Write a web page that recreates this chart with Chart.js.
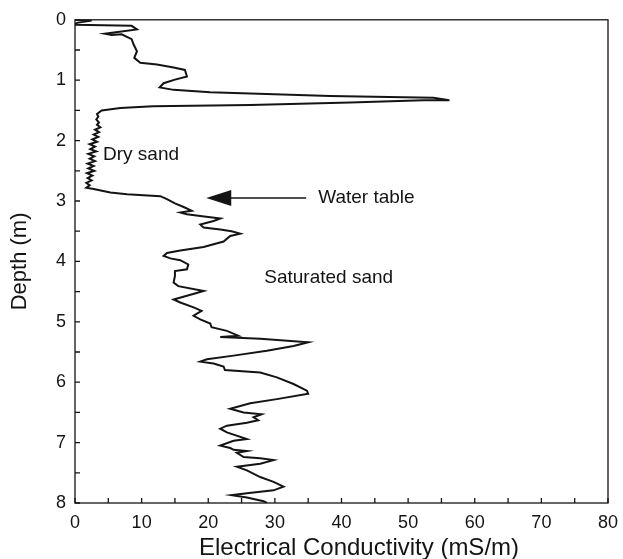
<!DOCTYPE html>
<html>
<head>
<meta charset="utf-8">
<script src="https://cdn.jsdelivr.net/npm/chart.js@4"></script>
<style>
  html, body { margin: 0; padding: 0; background: #fff; }
</style>
</head>
<body>
<canvas id="myChart" width="623" height="559"></canvas>
<script>
// conductivity log, depth (m) and EC (mS/m) pairs
const depth = [
  0.00, 0.01, 0.05, 0.08, 0.10, 0.16, 0.23, 0.25, 0.24, 0.32, 0.41, 0.52, 0.63, 0.71,
  0.74, 0.79, 0.83, 0.94, 0.99, 1.05, 1.12, 1.16, 1.20, 1.22, 1.26, 1.29, 1.33, 1.33,
  1.37, 1.41, 1.43, 1.46, 1.50, 1.56,
  // dry sand
  1.60, 1.65, 1.70, 1.74, 1.78, 1.82, 1.86, 1.90, 1.94, 1.98, 2.02, 2.06, 2.10, 2.14,
  2.18, 2.22, 2.26, 2.30, 2.34, 2.38, 2.42, 2.46, 2.50, 2.54, 2.58, 2.62, 2.66, 2.70,
  2.74, 2.78,
  // saturated sand
  2.80, 2.86, 2.89, 2.92, 2.97, 3.04, 3.10, 3.16, 3.19, 3.22, 3.25, 3.29, 3.33, 3.39,
  3.44, 3.47, 3.50, 3.54, 3.58, 3.67, 3.76, 3.82, 3.86, 3.91, 3.95, 3.98, 4.05, 4.13,
  4.16, 4.24, 4.35, 4.41, 4.49, 4.53, 4.63, 4.68, 4.76, 4.82, 4.90, 4.96, 5.03, 5.09,
  5.15, 5.23, 5.25, 5.28, 5.34, 5.40, 5.48, 5.56, 5.62, 5.66, 5.69, 5.74, 5.80, 5.84,
  5.92, 6.03, 6.14, 6.19, 6.28, 6.35, 6.44, 6.50, 6.53, 6.58, 6.63, 6.67, 6.72, 6.77,
  6.83, 6.94, 6.97, 7.05, 7.09, 7.12, 7.14, 7.17, 7.24, 7.26, 7.29, 7.35, 7.40, 7.46,
  7.57, 7.65, 7.73, 7.79, 7.84, 7.87, 7.91, 7.97, 8.00
];
const conductivity = [
  0.0, 2.5, 0.3, 0.0, 8.5, 9.3, 4.5, 5.5, 7.0, 8.5, 8.8, 9.3, 8.9, 9.8,
  12.3, 14.8, 16.5, 16.8, 15.0, 13.3, 12.7, 14.8, 20.3, 26.3, 38.3, 53.8, 56.2, 52.3,
  41.3, 26.3, 11.7, 6.8, 4.0, 3.3,
  3.5, 3.2, 3.6, 3.3, 3.8, 3.0, 3.6, 2.8, 3.5, 2.6, 3.3, 2.2, 3.0, 2.3,
  3.2, 2.0, 2.9, 2.2, 3.0, 1.9, 2.8, 2.0, 2.9, 1.8, 2.6, 1.9, 2.5, 1.7,
  2.2, 1.7,
  2.8, 5.3, 7.8, 12.8, 13.8, 15.0, 16.3, 17.5, 15.8, 16.8, 18.8, 21.8, 20.8, 18.8,
  19.3, 21.8, 23.5, 24.8, 23.3, 22.3, 19.3, 15.8, 13.8, 13.3, 14.3, 15.8, 17.0, 16.8,
  15.0, 15.0, 14.8, 15.5, 19.3, 18.0, 14.8, 15.8, 17.8, 19.0, 17.8, 18.8, 20.3, 20.5,
  22.8, 24.5, 21.8, 27.8, 35.0, 32.8, 28.8, 23.8, 19.8, 18.8, 20.8, 22.3, 22.5, 27.8,
  30.3, 32.8, 34.8, 35.0, 30.3, 26.3, 23.3, 25.3, 28.0, 26.8, 27.5, 25.8, 22.8, 21.8,
  22.8, 25.8, 23.8, 21.8, 23.3, 23.8, 25.8, 24.3, 25.3, 27.8, 29.8, 27.8, 24.3, 25.8,
  27.8, 29.8, 31.3, 29.8, 25.8, 23.5, 25.8, 28.3, 28.8
];
const xTicks = [0, 10, 20, 30, 40, 50, 60, 70, 80];
const yTicks = [0, 1, 2, 3, 4, 5, 6, 7, 8];
const xMinor = [0, 5, 10, 15, 20, 25, 30, 35, 40, 45, 50, 55, 60, 65, 70, 75, 80];
const yMinor = [0, 0.5, 1, 1.5, 2, 2.5, 3, 3.5, 4, 4.5, 5, 5.5, 6, 6.5, 7, 7.5, 8];

const FONT = 'Liberation Sans, Arial, Helvetica, sans-serif';
const INK = '#141414';

// box + inward tick marks
const framePlugin = {
  id: 'frame',
  afterDraw(chart) {
    const { ctx, chartArea: a, scales: { x, y } } = chart;
    ctx.save();
    ctx.strokeStyle = INK;
    ctx.lineWidth = 1.3;
    ctx.strokeRect(a.left, a.top, a.right - a.left, a.bottom - a.top);
    ctx.beginPath();
    xMinor.forEach(v => {
      const px = x.getPixelForValue(v);
      ctx.moveTo(px, a.bottom);
      ctx.lineTo(px, a.bottom - 5);
    });
    yMinor.forEach(v => {
      const py = y.getPixelForValue(v);
      ctx.moveTo(a.left, py);
      ctx.lineTo(a.left + 5, py);
    });
    ctx.stroke();
    ctx.restore();
  }
};

// text notes, the water table arrow and the x axis title (sits right of centre)
const notesPlugin = {
  id: 'notes',
  afterDraw(chart) {
    const { ctx, scales: { x, y } } = chart;
    ctx.save();
    ctx.fillStyle = INK;
    ctx.font = '19px ' + FONT;
    ctx.textBaseline = 'middle';
    ctx.textAlign = 'left';
    ctx.fillText('Dry sand', x.getPixelForValue(4.2), y.getPixelForValue(2.23));
    ctx.fillText('Water table', x.getPixelForValue(36.5), y.getPixelForValue(2.94));
    ctx.fillText('Saturated sand', x.getPixelForValue(28.4), y.getPixelForValue(4.27));

    ctx.font = '24px ' + FONT;
    ctx.textAlign = 'center';
    ctx.fillText('Electrical Conductivity (mS/m)', 359, 548);

    const ay = y.getPixelForValue(2.95);
    const tip = x.getPixelForValue(19.7);
    const tail = x.getPixelForValue(34.7);
    ctx.strokeStyle = INK;
    ctx.lineWidth = 1.5;
    ctx.beginPath();
    ctx.moveTo(tip + 20, ay);
    ctx.lineTo(tail, ay);
    ctx.stroke();
    ctx.beginPath();
    ctx.moveTo(tip, ay);
    ctx.lineTo(tip + 25, ay - 8);
    ctx.lineTo(tip + 25, ay + 8);
    ctx.closePath();
    ctx.fill();
    ctx.restore();
  }
};

const points = depth.map((d, i) => ({ x: conductivity[i], y: d }));

const ctx = document.getElementById('myChart').getContext('2d');
const myChart = new Chart(ctx, {
  type: 'scatter',
  data: {
    datasets: [{
      data: points,
      showLine: true,
      borderColor: INK,
      borderWidth: 2,
      pointRadius: 0,
      tension: 0,
      fill: false
    }]
  },
  options: {
    responsive: false,
    animation: false,
    layout: { padding: { left: 0, right: 15, top: 16, bottom: 0 } },
    plugins: {
      legend: { display: false },
      tooltip: { enabled: false }
    },
    scales: {
      x: {
        type: 'linear',
        min: 0,
        max: 80,
        afterBuildTicks: s => { s.ticks = xTicks.map(v => ({ value: v })); },
        afterFit: s => { s.height = 56; s.paddingLeft = 0; s.paddingRight = 0; },
        grid: { display: false, drawTicks: false },
        border: { display: false },
        ticks: {
          padding: 9,
          color: INK,
          maxRotation: 0,
          autoSkip: false,
          font: { family: FONT, size: 18 }
        },
        title: { display: false }
      },
      y: {
        type: 'linear',
        reverse: true,
        min: 0,
        max: 8,
        afterBuildTicks: s => { s.ticks = yTicks.map(v => ({ value: v })); },
        afterFit: s => { s.width = 75; },
        grid: { display: false, drawTicks: false },
        border: { display: false },
        ticks: {
          padding: 9,
          color: INK,
          autoSkip: false,
          font: { family: FONT, size: 18 }
        },
        title: {
          display: true,
          text: 'Depth (m)',
          color: INK,
          font: { family: FONT, size: 22 },
          padding: { top: 7, bottom: 0 }
        }
      }
    }
  },
  plugins: [framePlugin, notesPlugin]
});
</script>
</body>
</html>
